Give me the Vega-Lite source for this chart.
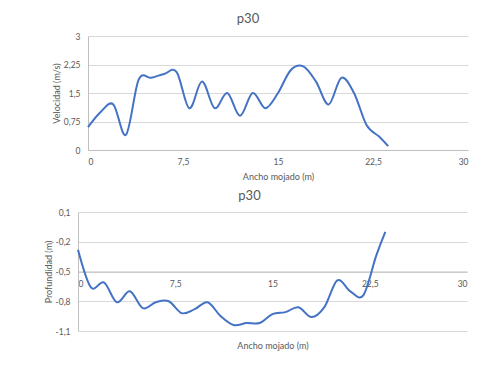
{
  "$schema": "https://vega.github.io/schema/vega-lite/v6.json",
  "background": "white",
  "padding": {"left": 44, "top": 13, "right": 5, "bottom": 5},
  "spacing": 8,
  "config": {
    "font": "Lato",
    "view": {"stroke": null},
    "axis": {
      "labelColor": "#595959",
      "titleColor": "#595959",
      "labelFontSize": 8.5,
      "titleFontSize": 9,
      "titleFontWeight": "normal",
      "ticks": false,
      "gridColor": "#d9d9d9",
      "domainColor": "#bfbfbf",
      "labelFont": "Lato",
      "titleFont": "Lato"
    },
    "title": {"fontSize": 13, "fontWeight": "normal", "color": "#595959", "font": "Lato"}
  },
  "datasets": {
    "vel": [
      {"ancho": 0, "velocidad": 0.6},
      {"ancho": 1, "velocidad": 1.0},
      {"ancho": 2, "velocidad": 1.2},
      {"ancho": 3, "velocidad": 0.4},
      {"ancho": 4, "velocidad": 1.85},
      {"ancho": 5, "velocidad": 1.9},
      {"ancho": 6, "velocidad": 2.0},
      {"ancho": 7, "velocidad": 2.05},
      {"ancho": 8, "velocidad": 1.1},
      {"ancho": 9, "velocidad": 1.8},
      {"ancho": 10, "velocidad": 1.1},
      {"ancho": 11, "velocidad": 1.5},
      {"ancho": 12, "velocidad": 0.9},
      {"ancho": 13, "velocidad": 1.5},
      {"ancho": 14, "velocidad": 1.1},
      {"ancho": 15, "velocidad": 1.5},
      {"ancho": 16, "velocidad": 2.1},
      {"ancho": 17, "velocidad": 2.2},
      {"ancho": 18, "velocidad": 1.8},
      {"ancho": 19, "velocidad": 1.2},
      {"ancho": 20, "velocidad": 1.9},
      {"ancho": 21, "velocidad": 1.5},
      {"ancho": 22, "velocidad": 0.65},
      {"ancho": 23, "velocidad": 0.35},
      {"ancho": 23.7, "velocidad": 0.1}
    ],
    "prof": [
      {"ancho": 0, "profundidad": -0.28},
      {"ancho": 1, "profundidad": -0.66},
      {"ancho": 2, "profundidad": -0.61},
      {"ancho": 3, "profundidad": -0.81},
      {"ancho": 4, "profundidad": -0.7},
      {"ancho": 5, "profundidad": -0.87},
      {"ancho": 6, "profundidad": -0.81},
      {"ancho": 7, "profundidad": -0.8},
      {"ancho": 8, "profundidad": -0.92},
      {"ancho": 9, "profundidad": -0.88},
      {"ancho": 10, "profundidad": -0.81},
      {"ancho": 11, "profundidad": -0.95},
      {"ancho": 12, "profundidad": -1.04},
      {"ancho": 13, "profundidad": -1.02},
      {"ancho": 14, "profundidad": -1.02},
      {"ancho": 15, "profundidad": -0.93},
      {"ancho": 16, "profundidad": -0.91},
      {"ancho": 17, "profundidad": -0.86},
      {"ancho": 18, "profundidad": -0.96},
      {"ancho": 19, "profundidad": -0.86},
      {"ancho": 20, "profundidad": -0.59},
      {"ancho": 21, "profundidad": -0.7},
      {"ancho": 22, "profundidad": -0.74},
      {"ancho": 23, "profundidad": -0.34},
      {"ancho": 23.7, "profundidad": -0.1}
    ]
  },
  "vconcat": [
    {
      "title": {"text": "p30", "dx": -25, "offset": 6},
      "width": 390,
      "height": 114,
      "data": {"name": "vel"},
      "mark": {"type": "line", "interpolate": "cardinal", "color": "#4472C4", "strokeWidth": 2},
      "encoding": {
        "x": {
          "field": "ancho", "type": "quantitative",
          "scale": {"domain": [0, 30], "nice": false, "range": [10, 390]},
          "axis": {"values": [0, 7.5, 15, 22.5, 30], "grid": false, "title": "Ancho mojado (m)",
                   "labelExpr": "replace(toString(datum.value), '.', ',')", "labelPadding": 7, "titlePadding": 7}
        },
        "y": {
          "field": "velocidad", "type": "quantitative",
          "scale": {"domain": [0, 3], "nice": false},
          "axis": {"values": [0, 0.75, 1.5, 2.25, 3], "title": "Velocidad (m/s)", "offset": -10,
                   "minExtent": 26,
                   "labelExpr": "replace(toString(datum.value), '.', ',')", "labelPadding": 8, "titlePadding": 1}
        }
      }
    },
    {
      "title": {"text": "p30", "dx": -23, "offset": 5},
      "width": 389,
      "height": 119,
      "data": {"name": "prof"},
      "mark": {"type": "line", "interpolate": "cardinal", "color": "#4472C4", "strokeWidth": 2},
      "encoding": {
        "x": {
          "field": "ancho", "type": "quantitative",
          "scale": {"domain": [0, 30], "nice": false},
          "axis": {"values": [0, 7.5, 15, 22.5, 30], "grid": false, "title": "Ancho mojado (m)",
                   "offset": -59.5, "titleY": 70,
                   "labelExpr": "replace(toString(datum.value), '.', ',')", "labelPadding": 8}
        },
        "y": {
          "field": "profundidad", "type": "quantitative",
          "scale": {"domain": [-1.1, 0.1], "nice": false},
          "axis": {"values": [0.1, -0.2, -0.5, -0.8, -1.1], "title": "Profundidad (m)",
                   "minExtent": 25,
                   "labelExpr": "replace(toString(datum.value), '.', ',')", "labelPadding": 8, "titlePadding": 0}
        }
      }
    }
  ]
}
